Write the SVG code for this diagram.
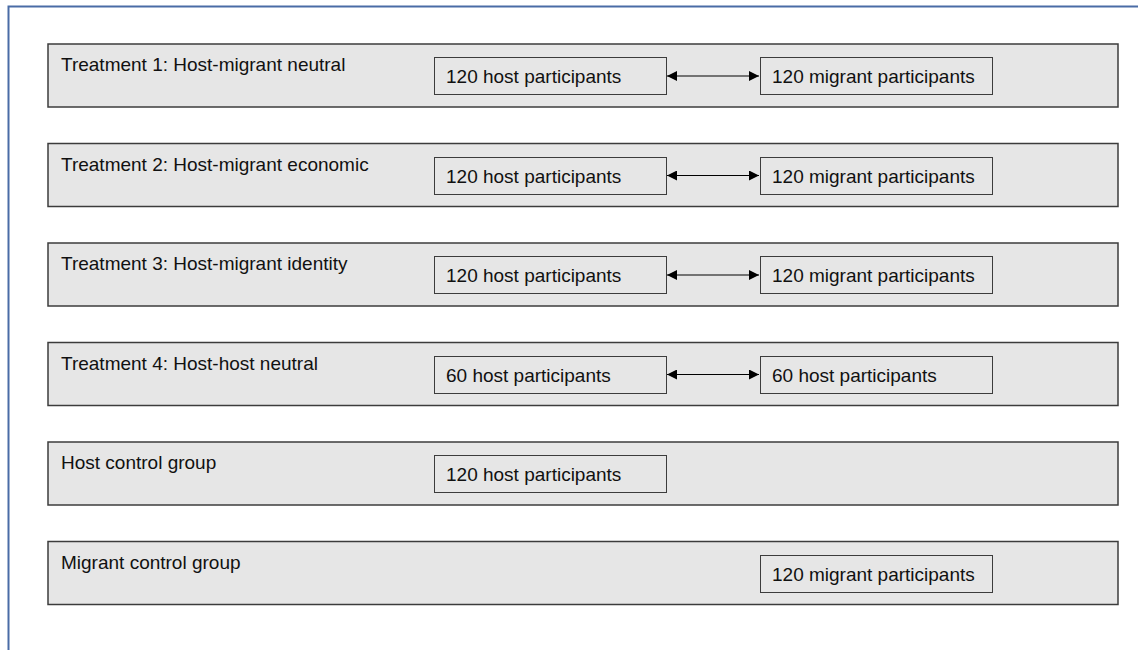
<svg xmlns="http://www.w3.org/2000/svg" width="1145" height="650" viewBox="0 0 1145 650">
<defs>
<marker id="ah" viewBox="0 0 10 10" refX="10" refY="5" markerWidth="10" markerHeight="10" markerUnits="userSpaceOnUse" orient="auto-start-reverse">
<path d="M0,0 L10,5 L0,10 z" fill="#000"/>
</marker>
<style>
.row{fill:#e6e6e6;stroke:#3c3c3c;stroke-width:1.5}
.box{fill:#e6e6e6;stroke:#3c3c3c;stroke-width:1}
.t{font-family:"Liberation Sans",Arial,sans-serif;font-size:19px;fill:#111}
.c{stroke:#000;stroke-width:1;fill:none;marker-start:url(#ah);marker-end:url(#ah)}
</style>
</defs>
<rect width="1145" height="650" fill="#fff"/>
<path d="M8.5,650 V6.5 H1138" fill="none" stroke="#4a6ca6" stroke-width="2"/>

<g id="t1">
<rect class="row" x="48" y="44" width="1070" height="63"/>
<text class="t" x="61" y="71">Treatment 1: Host-migrant neutral</text>
<rect class="box" x="434.5" y="57.5" width="232" height="37"/>
<text class="t" x="446" y="83">120 host participants</text>
<rect class="box" x="760.5" y="57.5" width="232" height="37"/>
<text class="t" x="772" y="83">120 migrant participants</text>
</g>
<g id="t2">
<rect class="row" x="48" y="143.5" width="1070" height="63"/>
<text class="t" x="61" y="170.5">Treatment 2: Host-migrant economic</text>
<rect class="box" x="434.5" y="157.5" width="232" height="37"/>
<text class="t" x="446" y="183">120 host participants</text>
<rect class="box" x="760.5" y="157.5" width="232" height="37"/>
<text class="t" x="772" y="183">120 migrant participants</text>
</g>
<g id="t3">
<rect class="row" x="48" y="243" width="1070" height="63"/>
<text class="t" x="61" y="270">Treatment 3: Host-migrant identity</text>
<rect class="box" x="434.5" y="256.5" width="232" height="37"/>
<text class="t" x="446" y="282">120 host participants</text>
<rect class="box" x="760.5" y="256.5" width="232" height="37"/>
<text class="t" x="772" y="282">120 migrant participants</text>
</g>
<g id="t4">
<rect class="row" x="48" y="342.5" width="1070" height="63"/>
<text class="t" x="61" y="369.5">Treatment 4: Host-host neutral</text>
<rect class="box" x="434.5" y="356.5" width="232" height="37"/>
<text class="t" x="446" y="382">60 host participants</text>
<rect class="box" x="760.5" y="356.5" width="232" height="37"/>
<text class="t" x="772" y="382">60 host participants</text>
</g>
<g id="hc">
<rect class="row" x="48" y="442" width="1070" height="63"/>
<text class="t" x="61" y="469">Host control group</text>
<rect class="box" x="434.5" y="455.5" width="232" height="37"/>
<text class="t" x="446" y="481">120 host participants</text>
</g>
<g id="mc">
<rect class="row" x="48" y="541.5" width="1070" height="63"/>
<text class="t" x="61" y="568.5">Migrant control group</text>
<rect class="box" x="760.5" y="555.5" width="232" height="37"/>
<text class="t" x="772" y="581">120 migrant participants</text>
</g>

<g id="connectors">
<line class="c" x1="667" y1="76" x2="759" y2="76"/>
<line class="c" x1="667" y1="175.5" x2="759" y2="175.5"/>
<line class="c" x1="667" y1="275" x2="759" y2="275"/>
<line class="c" x1="667" y1="374.5" x2="759" y2="374.5"/>
</g>
</svg>
